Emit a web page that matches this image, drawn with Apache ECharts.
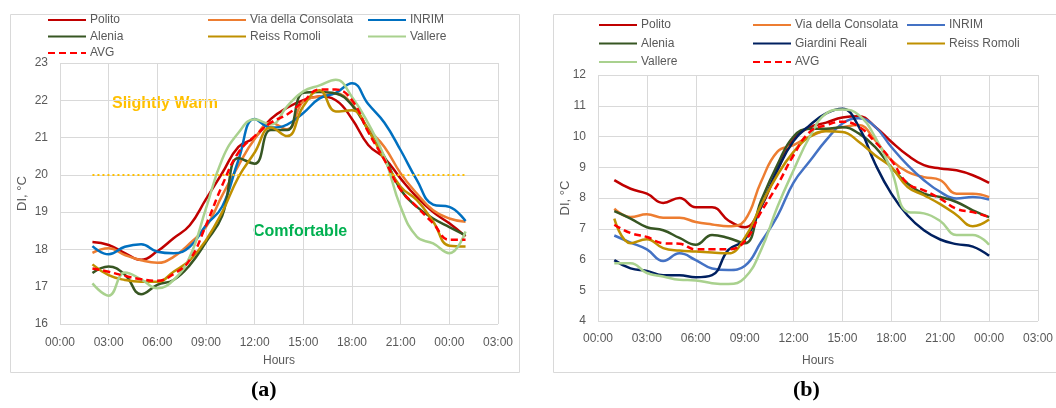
<!DOCTYPE html>
<html>
<head>
<meta charset="utf-8">
<script src="https://cdn.jsdelivr.net/npm/echarts@6/dist/echarts.min.js"></script>
<style>
  html, body { margin: 0; padding: 0; background: #fff; }
  #a { position: absolute; left: 0; top: 0; width: 528px; height: 408px; }
  #b { position: absolute; left: 528px; top: 0; width: 528px; height: 408px; }
</style>
</head>
<body>
<div id="a"></div>
<div id="b"></div>
<script>
// ---------- Data: chart (a) ----------
const hoursA = [2,3,4,5,6,7,8,9,10,11,12,13,14,15,16,17,18,19,20,21,22,23,24,25];
const politoA    = [18.2, 18.12, 17.9, 17.72, 17.95, 18.3, 18.65, 19.35, 20.05, 20.75, 21.0, 21.5, 21.8, 22.0, 22.1, 22.0, 21.5, 20.8, 20.45, 19.9, 19.4, 19.0, 18.7, 18.35];
const consolataA = [17.91, 18.03, 17.85, 17.71, 17.64, 17.8, 18.16, 18.6, 19.45, 20.25, 20.96, 21.4, 21.22, 21.97, 22.1, 22.18, 21.9, 21.24, 20.75, 20.04, 19.5, 19.05, 18.83, 18.74];
const inrimA     = [18.09, 17.87, 18.07, 18.14, 17.94, 17.9, 18.07, 18.65, 19.15, 20.4, 21.5, 21.27, 21.35, 21.66, 22.05, 22.2, 22.46, 21.9, 21.4, 20.66, 19.86, 19.2, 19.14, 18.76];
const aleniaA    = [17.37, 17.54, 17.32, 16.8, 17.05, 17.18, 17.58, 18.2, 18.9, 20.45, 20.3, 21.2, 21.2, 22.2, 22.22, 22.18, 21.87, 21.2, 20.48, 19.6, 19.14, 18.83, 18.6, 18.38];
const reissA     = [17.6, 17.31, 17.18, 17.13, 17.13, 17.4, 17.71, 18.25, 19.0, 19.94, 20.6, 21.27, 21.04, 21.84, 22.27, 21.7, 21.73, 21.2, 20.4, 19.68, 19.32, 18.75, 18.1, 18.08];
const vallereA   = [17.09, 16.76, 17.38, 17.2, 16.96, 17.18, 17.8, 19.1, 20.42, 21.13, 21.49, 21.35, 21.84, 22.24, 22.4, 22.55, 22.09, 21.38, 20.48, 19.14, 18.34, 18.16, 17.9, 18.48];
const avgA       = [17.49, 17.4, 17.29, 17.2, 17.16, 17.34, 17.72, 18.65, 19.72, 20.6, 21.04, 21.4, 21.62, 21.97, 22.29, 22.29, 22.0, 21.15, 20.4, 19.6, 19.14, 18.7, 18.26, 18.26];
const thresholdA = { value: 20, from: 2, to: 25 };
const labelsA = { warm: 'Slightly Warm', comfort: 'Comfortable' };

// ---------- Data: chart (b) ----------
const hoursB = [1,2,3,4,5,6,7,8,9,10,11,12,13,14,15,16,17,18,19,20,21,22,23,24];
const politoB    = [8.58, 8.3, 8.14, 7.84, 8.0, 7.7, 7.7, 7.27, 7.05, 7.7, 8.9, 9.9, 10.3, 10.45, 10.62, 10.66, 10.32, 9.83, 9.39, 9.07, 8.96, 8.9, 8.74, 8.49];
const consolataB = [7.65, 7.38, 7.47, 7.36, 7.36, 7.22, 7.14, 7.08, 7.27, 8.52, 9.5, 9.72, 10.0, 10.2, 10.3, 10.37, 9.88, 9.23, 8.85, 8.68, 8.58, 8.14, 8.14, 8.03];
const inrimB     = [6.78, 6.55, 6.33, 5.95, 6.2, 5.98, 5.71, 5.66, 5.79, 6.56, 7.4, 8.5, 9.2, 9.88, 10.42, 10.59, 10.32, 9.66, 9.07, 8.58, 8.2, 7.98, 8.03, 7.95];
const aleniaB    = [7.57, 7.33, 7.05, 6.95, 6.7, 6.48, 6.8, 6.7, 6.53, 7.9, 9.07, 10.0, 10.25, 10.25, 10.3, 10.1, 9.66, 9.0, 8.47, 8.14, 8.03, 7.87, 7.6, 7.38];
const giardiniB  = [5.98, 5.71, 5.63, 5.49, 5.49, 5.42, 5.49, 6.31, 6.64, 7.7, 8.9, 9.85, 10.37, 10.75, 10.9, 10.32, 9.12, 8.14, 7.43, 6.95, 6.65, 6.5, 6.42, 6.12];
const reissB     = [7.33, 6.53, 6.66, 6.37, 6.29, 6.26, 6.23, 6.2, 6.7, 7.76, 8.74, 9.5, 9.99, 10.17, 10.15, 9.83, 9.39, 9.0, 8.36, 8.09, 7.8, 7.45, 7.08, 7.3];
const vallereB   = [5.88, 5.88, 5.56, 5.45, 5.34, 5.32, 5.23, 5.2, 5.4, 6.3, 7.7, 8.9, 10.0, 10.75, 10.88, 10.7, 9.99, 8.9, 7.55, 7.5, 7.25, 6.8, 6.8, 6.48];
const avgB       = [7.13, 6.86, 6.73, 6.53, 6.51, 6.33, 6.33, 6.33, 6.59, 7.54, 8.41, 9.39, 10.15, 10.37, 10.48, 10.32, 9.83, 9.23, 8.47, 8.25, 7.98, 7.65, 7.54, 7.38];

// x ticks (hours, every 3 h from 0 to 27)
const xTicks = { min: 0, max: 27, interval: 3 };
const yTicksA = { min: 16, max: 23, interval: 1 };
const yTicksB = { min: 4, max: 12, interval: 1 };
const axisTitles = { x: 'Hours', y: 'DI, °C' };
const panelLabels = ['(a)', '(b)'];

const COLORS = {
  'Polito': '#C00000',
  'Via della Consolata': '#ED7D31',
  'INRIM': '#0070C0',
  'Alenia': '#375623',
  'Giardini Reali': '#002060',
  'Reiss Romoli': '#BF9000',
  'Vallere': '#A9D18E',
  'AVG': '#FF0000'
};

const FONT = '"Liberation Sans", Arial, sans-serif';
const GRAY = '#595959';
const GRID = '#D9D9D9';

function fmtHour(v) {
  const h = ((v % 24) + 24) % 24;
  return (h < 10 ? '0' : '') + h + ':00';
}

function mkSeries(name, hours, vals, color, extra) {
  const s = {
    name: name,
    type: 'line',
    data: hours.map((h, i) => [h, vals[i]]),
    smooth: 0.45,
    symbol: 'none',
    lineStyle: { width: 2.5, color: color, type: name === 'AVG' ? [7, 4] : 'solid' },
    itemStyle: { color: color },
    emphasis: { disabled: true },
    z: name === 'AVG' ? 5 : 3
  };
  return Object.assign(s, extra || {});
}

function baseAxes(yT, nameGapY, nameGapX, labelMarginX) {
  return {
    xAxis: {
      type: 'value', min: xTicks.min, max: xTicks.max, interval: xTicks.interval,
      name: axisTitles.x, nameLocation: 'middle', nameGap: nameGapX,
      nameMoveOverlap: false,
      nameTextStyle: { color: GRAY, fontSize: 12, fontFamily: FONT },
      axisLine: { show: false }, axisTick: { show: false },
      axisLabel: { color: GRAY, fontSize: 12, fontFamily: FONT, margin: labelMarginX, formatter: fmtHour },
      splitLine: { show: true, lineStyle: { color: GRID, width: 1 } }
    },
    yAxis: {
      type: 'value', min: yT.min, max: yT.max, interval: yT.interval,
      name: axisTitles.y, nameLocation: 'middle', nameGap: nameGapY,
      nameMoveOverlap: false,
      nameTextStyle: { color: GRAY, fontSize: 13, fontFamily: FONT },
      axisLine: { show: false }, axisTick: { show: false },
      axisLabel: { color: GRAY, fontSize: 12, fontFamily: FONT, margin: 12 },
      splitLine: { show: true, lineStyle: { color: GRID, width: 1 } }
    }
  };
}

function legendCol(left, top, gap, items) {
  return {
    orient: 'vertical', left: left, top: top, itemGap: gap,
    itemWidth: 38, itemHeight: 14, padding: 0,
    selectedMode: false,
    itemStyle: { opacity: 0 },
    textStyle: { color: GRAY, fontSize: 12, fontFamily: FONT, lineHeight: 14, padding: [0, 0, 0, -1] },
    data: items
  };
}

function frame(x, y, w, h, label, labelX) {
  return [
    { type: 'rect', left: x, top: y, shape: { width: w, height: h },
      style: { fill: 'none', stroke: GRID, lineWidth: 1 }, silent: true },
    { type: 'text', left: labelX, top: 379,
      style: { text: label, fill: '#000', font: 'bold 22px "Liberation Serif", "Times New Roman", serif' } }
  ];
}

// ---------- Chart (a) ----------
const chartA = echarts.init(document.getElementById('a'), null, { renderer: 'canvas' });
const axA = baseAxes(yTicksA, 31, 31, 13);
const seriesA = [
  mkSeries('Polito', hoursA, politoA, COLORS['Polito'], {
    markLine: {
      silent: true, symbol: 'none', animation: false,
      label: { show: false },
      lineStyle: { color: '#FFC000', type: [2, 3], width: 2 },
      data: [[{ coord: [thresholdA.from, thresholdA.value] }, { coord: [thresholdA.to, thresholdA.value] }]]
    }
  }),
  mkSeries('Via della Consolata', hoursA, consolataA, COLORS['Via della Consolata']),
  mkSeries('INRIM', hoursA, inrimA, COLORS['INRIM']),
  mkSeries('Alenia', hoursA, aleniaA, COLORS['Alenia']),
  mkSeries('Reiss Romoli', hoursA, reissA, COLORS['Reiss Romoli']),
  mkSeries('Vallere', hoursA, vallereA, COLORS['Vallere']),
  mkSeries('AVG', hoursA, avgA, COLORS['AVG'])
];
chartA.setOption({
  animation: false,
  grid: { left: 60, top: 63, width: 438, height: 261 },
  xAxis: axA.xAxis,
  yAxis: axA.yAxis,
  legend: [
    legendCol(47, 13, 2.5, ['Polito', 'Alenia', 'AVG']),
    legendCol(207, 13, 2.5, ['Via della Consolata', 'Reiss Romoli']),
    legendCol(367, 13, 2.5, ['INRIM', 'Vallere'])
  ],
  graphic: frame(8, 12, 509, 358, panelLabels[0], 251).concat([
    { type: 'text', left: 112, top: 96,
      style: { text: labelsA.warm, fill: '#FFC000', font: 'bold 16px ' + FONT } },
    { type: 'text', left: 253, top: 224,
      style: { text: labelsA.comfort, fill: '#00B050', font: 'bold 16px ' + FONT } }
  ]),
  series: seriesA
});

// ---------- Chart (b) ----------
const chartB = echarts.init(document.getElementById('b'), null, { renderer: 'canvas' });
const axB = baseAxes(yTicksB, 26, 34, 12);
const seriesB = [
  mkSeries('Polito', hoursB, politoB, COLORS['Polito']),
  mkSeries('Via della Consolata', hoursB, consolataB, COLORS['Via della Consolata']),
  mkSeries('INRIM', hoursB, inrimB, '#4472C4'),
  mkSeries('Alenia', hoursB, aleniaB, COLORS['Alenia']),
  mkSeries('Giardini Reali', hoursB, giardiniB, COLORS['Giardini Reali']),
  mkSeries('Reiss Romoli', hoursB, reissB, COLORS['Reiss Romoli']),
  mkSeries('Vallere', hoursB, vallereB, COLORS['Vallere']),
  mkSeries('AVG', hoursB, avgB, COLORS['AVG'])
];
chartB.setOption({
  animation: false,
  grid: { left: 70, top: 75, width: 442, height: 246 },
  xAxis: axB.xAxis,
  yAxis: axB.yAxis,
  legend: [
    legendCol(70, 18, 4.5, ['Polito', 'Alenia', 'Vallere']),
    legendCol(224, 18, 4.5, ['Via della Consolata', 'Giardini Reali', 'AVG']),
    legendCol(378, 18, 4.5, ['INRIM', 'Reiss Romoli'])
  ],
  graphic: frame(23, 12, 504, 358, panelLabels[1], 265),
  series: seriesB
});
</script>
</body>
</html>
